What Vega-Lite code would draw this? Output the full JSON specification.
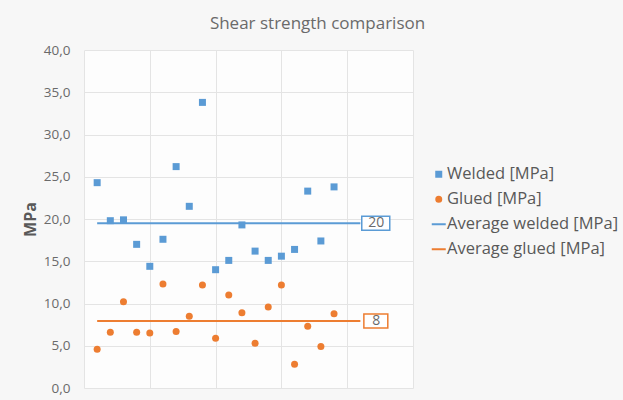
{
  "$schema": "https://vega.github.io/schema/vega-lite/v6.json",
  "autosize": {"type": "none"},
  "padding": {"left": 84, "top": 50, "right": 210, "bottom": 12},
  "width": 329,
  "height": 338,
  "background": "#f7f7f7",
  "title": {
    "text": "Shear strength comparison",
    "font": "Open Sans",
    "fontSize": 17,
    "fontWeight": "normal",
    "color": "#6a6a6a",
    "anchor": "middle",
    "dx": 69,
    "offset": 10
  },
  "config": {
    "view": {"stroke": null, "fill": "#fdfdfd"},
    "font": "Open Sans",
    "axis": {"gridColor": "#e4e4e4", "gridWidth": 1}
  },
  "datasets": {
    "points": [
      {"i": 1, "series": "Welded [MPa]", "mpa": 24.3},
      {"i": 2, "series": "Welded [MPa]", "mpa": 19.8},
      {"i": 3, "series": "Welded [MPa]", "mpa": 19.9},
      {"i": 4, "series": "Welded [MPa]", "mpa": 17.0},
      {"i": 5, "series": "Welded [MPa]", "mpa": 14.4},
      {"i": 6, "series": "Welded [MPa]", "mpa": 17.6},
      {"i": 7, "series": "Welded [MPa]", "mpa": 26.2},
      {"i": 8, "series": "Welded [MPa]", "mpa": 21.5},
      {"i": 9, "series": "Welded [MPa]", "mpa": 33.8},
      {"i": 10, "series": "Welded [MPa]", "mpa": 14.0},
      {"i": 11, "series": "Welded [MPa]", "mpa": 15.1},
      {"i": 12, "series": "Welded [MPa]", "mpa": 19.3},
      {"i": 13, "series": "Welded [MPa]", "mpa": 16.2},
      {"i": 14, "series": "Welded [MPa]", "mpa": 15.1},
      {"i": 15, "series": "Welded [MPa]", "mpa": 15.6},
      {"i": 16, "series": "Welded [MPa]", "mpa": 16.4},
      {"i": 17, "series": "Welded [MPa]", "mpa": 23.3},
      {"i": 18, "series": "Welded [MPa]", "mpa": 17.4},
      {"i": 19, "series": "Welded [MPa]", "mpa": 23.8},
      {"i": 1, "series": "Glued [MPa]", "mpa": 4.6},
      {"i": 2, "series": "Glued [MPa]", "mpa": 6.6},
      {"i": 3, "series": "Glued [MPa]", "mpa": 10.2},
      {"i": 4, "series": "Glued [MPa]", "mpa": 6.6},
      {"i": 5, "series": "Glued [MPa]", "mpa": 6.5},
      {"i": 6, "series": "Glued [MPa]", "mpa": 12.3},
      {"i": 7, "series": "Glued [MPa]", "mpa": 6.7},
      {"i": 8, "series": "Glued [MPa]", "mpa": 8.5},
      {"i": 9, "series": "Glued [MPa]", "mpa": 12.2},
      {"i": 10, "series": "Glued [MPa]", "mpa": 5.9},
      {"i": 11, "series": "Glued [MPa]", "mpa": 11.0},
      {"i": 12, "series": "Glued [MPa]", "mpa": 8.9},
      {"i": 13, "series": "Glued [MPa]", "mpa": 5.3},
      {"i": 14, "series": "Glued [MPa]", "mpa": 9.6},
      {"i": 15, "series": "Glued [MPa]", "mpa": 12.2},
      {"i": 16, "series": "Glued [MPa]", "mpa": 2.8},
      {"i": 17, "series": "Glued [MPa]", "mpa": 7.3},
      {"i": 18, "series": "Glued [MPa]", "mpa": 4.9},
      {"i": 19, "series": "Glued [MPa]", "mpa": 8.8}
    ],
    "averages": [
      {"i": 1, "avg": "Average welded [MPa]", "mpa": 19.51},
      {"i": 21, "avg": "Average welded [MPa]", "mpa": 19.51},
      {"i": 1, "avg": "Average glued [MPa]", "mpa": 7.94},
      {"i": 21, "avg": "Average glued [MPa]", "mpa": 7.94}
    ]
  },
  "encoding": {
    "x": {
      "field": "i",
      "type": "quantitative",
      "scale": {"domain": [0, 25], "nice": false, "zero": false},
      "axis": {"values": [0, 5, 10, 15, 20, 25], "labels": false, "ticks": false, "domain": false, "title": null, "grid": true}
    },
    "y": {
      "field": "mpa",
      "type": "quantitative",
      "scale": {"domain": [0, 40], "nice": false},
      "axis": {
        "values": [0, 5, 10, 15, 20, 25, 30, 35, 40],
        "labelExpr": "replace(format(datum.value, '.1f'), '.', ',')",
        "labelFont": "Open Sans",
        "labelFontSize": 13.5,
        "labelColor": "#6a6a6a",
        "labelPadding": 14,
        "ticks": false,
        "domain": false,
        "title": "MPa",
        "titleFont": "Open Sans",
        "titleFontSize": 16,
        "titleFontWeight": "bold",
        "titleColor": "#595959",
        "titlePadding": 5,
        "grid": true
      }
    }
  },
  "layer": [
    {
      "data": {"name": "averages"},
      "mark": {"type": "line", "strokeWidth": 2},
      "encoding": {
        "detail": {"field": "avg", "type": "nominal"},
        "color": {
          "field": "avg",
          "type": "nominal",
          "scale": {"domain": ["Average welded [MPa]", "Average glued [MPa]"], "range": ["#5b9bd5", "#ed7d31"]},
          "legend": null
        }
      }
    },
    {
      "data": {"name": "points"},
      "mark": {"type": "point", "filled": true, "opacity": 1, "size": 49, "strokeWidth": 0},
      "encoding": {
        "fill": {
          "field": "series",
          "type": "nominal",
          "title": null,
          "scale": {
            "domain": ["Welded [MPa]", "Glued [MPa]", "Average welded [MPa]", "Average glued [MPa]"],
            "range": ["#5b9bd5", "#ed7d31", "#5b9bd5", "#ed7d31"]
          },
          "legend": {
            "orient": "none",
            "legendX": 346.5,
            "legendY": 116,
            "labelFont": "Open Sans",
            "labelFontSize": 16.5,
            "labelColor": "#595959",
            "labelOffset": 0,
            "symbolSize": 25,
            "symbolStrokeWidth": 2,
            "rowPadding": 8,
            "labelLimit": 300
          }
        },
        "stroke": {
          "field": "series",
          "type": "nominal",
          "title": null,
          "scale": {
            "domain": ["Welded [MPa]", "Glued [MPa]", "Average welded [MPa]", "Average glued [MPa]"],
            "range": ["#5b9bd5", "#ed7d31", "#5b9bd5", "#ed7d31"]
          }
        },
        "shape": {
          "field": "series",
          "type": "nominal",
          "title": null,
          "scale": {
            "domain": ["Welded [MPa]", "Glued [MPa]", "Average welded [MPa]", "Average glued [MPa]"],
            "range": ["square", "circle", "M-2.8,0H2.8", "M-2.8,0H2.8"]
          }
        }
      }
    },
    {
      "data": {"name": "averages"},
      "transform": [{"filter": "datum.i == 21 && datum.avg == 'Average welded [MPa]'"}],
      "mark": {"type": "point", "shape": "M0.1,-0.5H2.1V0.5H0.1Z", "size": 784, "filled": true, "fill": "#ffffff", "stroke": "#5b9bd5", "strokeWidth": 1.5, "opacity": 1}
    },
    {
      "data": {"name": "averages"},
      "transform": [{"filter": "datum.i == 21 && datum.avg == 'Average glued [MPa]'"}],
      "mark": {"type": "point", "shape": "M0.25,-0.5H1.96V0.5H0.25Z", "size": 784, "filled": true, "fill": "#ffffff", "stroke": "#ed7d31", "strokeWidth": 1.5, "opacity": 1}
    },
    {
      "data": {"name": "averages"},
      "transform": [{"filter": "datum.i == 21"}],
      "mark": {"type": "text", "dx": 16, "align": "center", "baseline": "middle", "font": "Open Sans", "fontSize": 14, "color": "#6a6a6a"},
      "encoding": {
        "text": {"field": "mpa", "type": "quantitative", "format": ".0f"}
      }
    }
  ]
}
